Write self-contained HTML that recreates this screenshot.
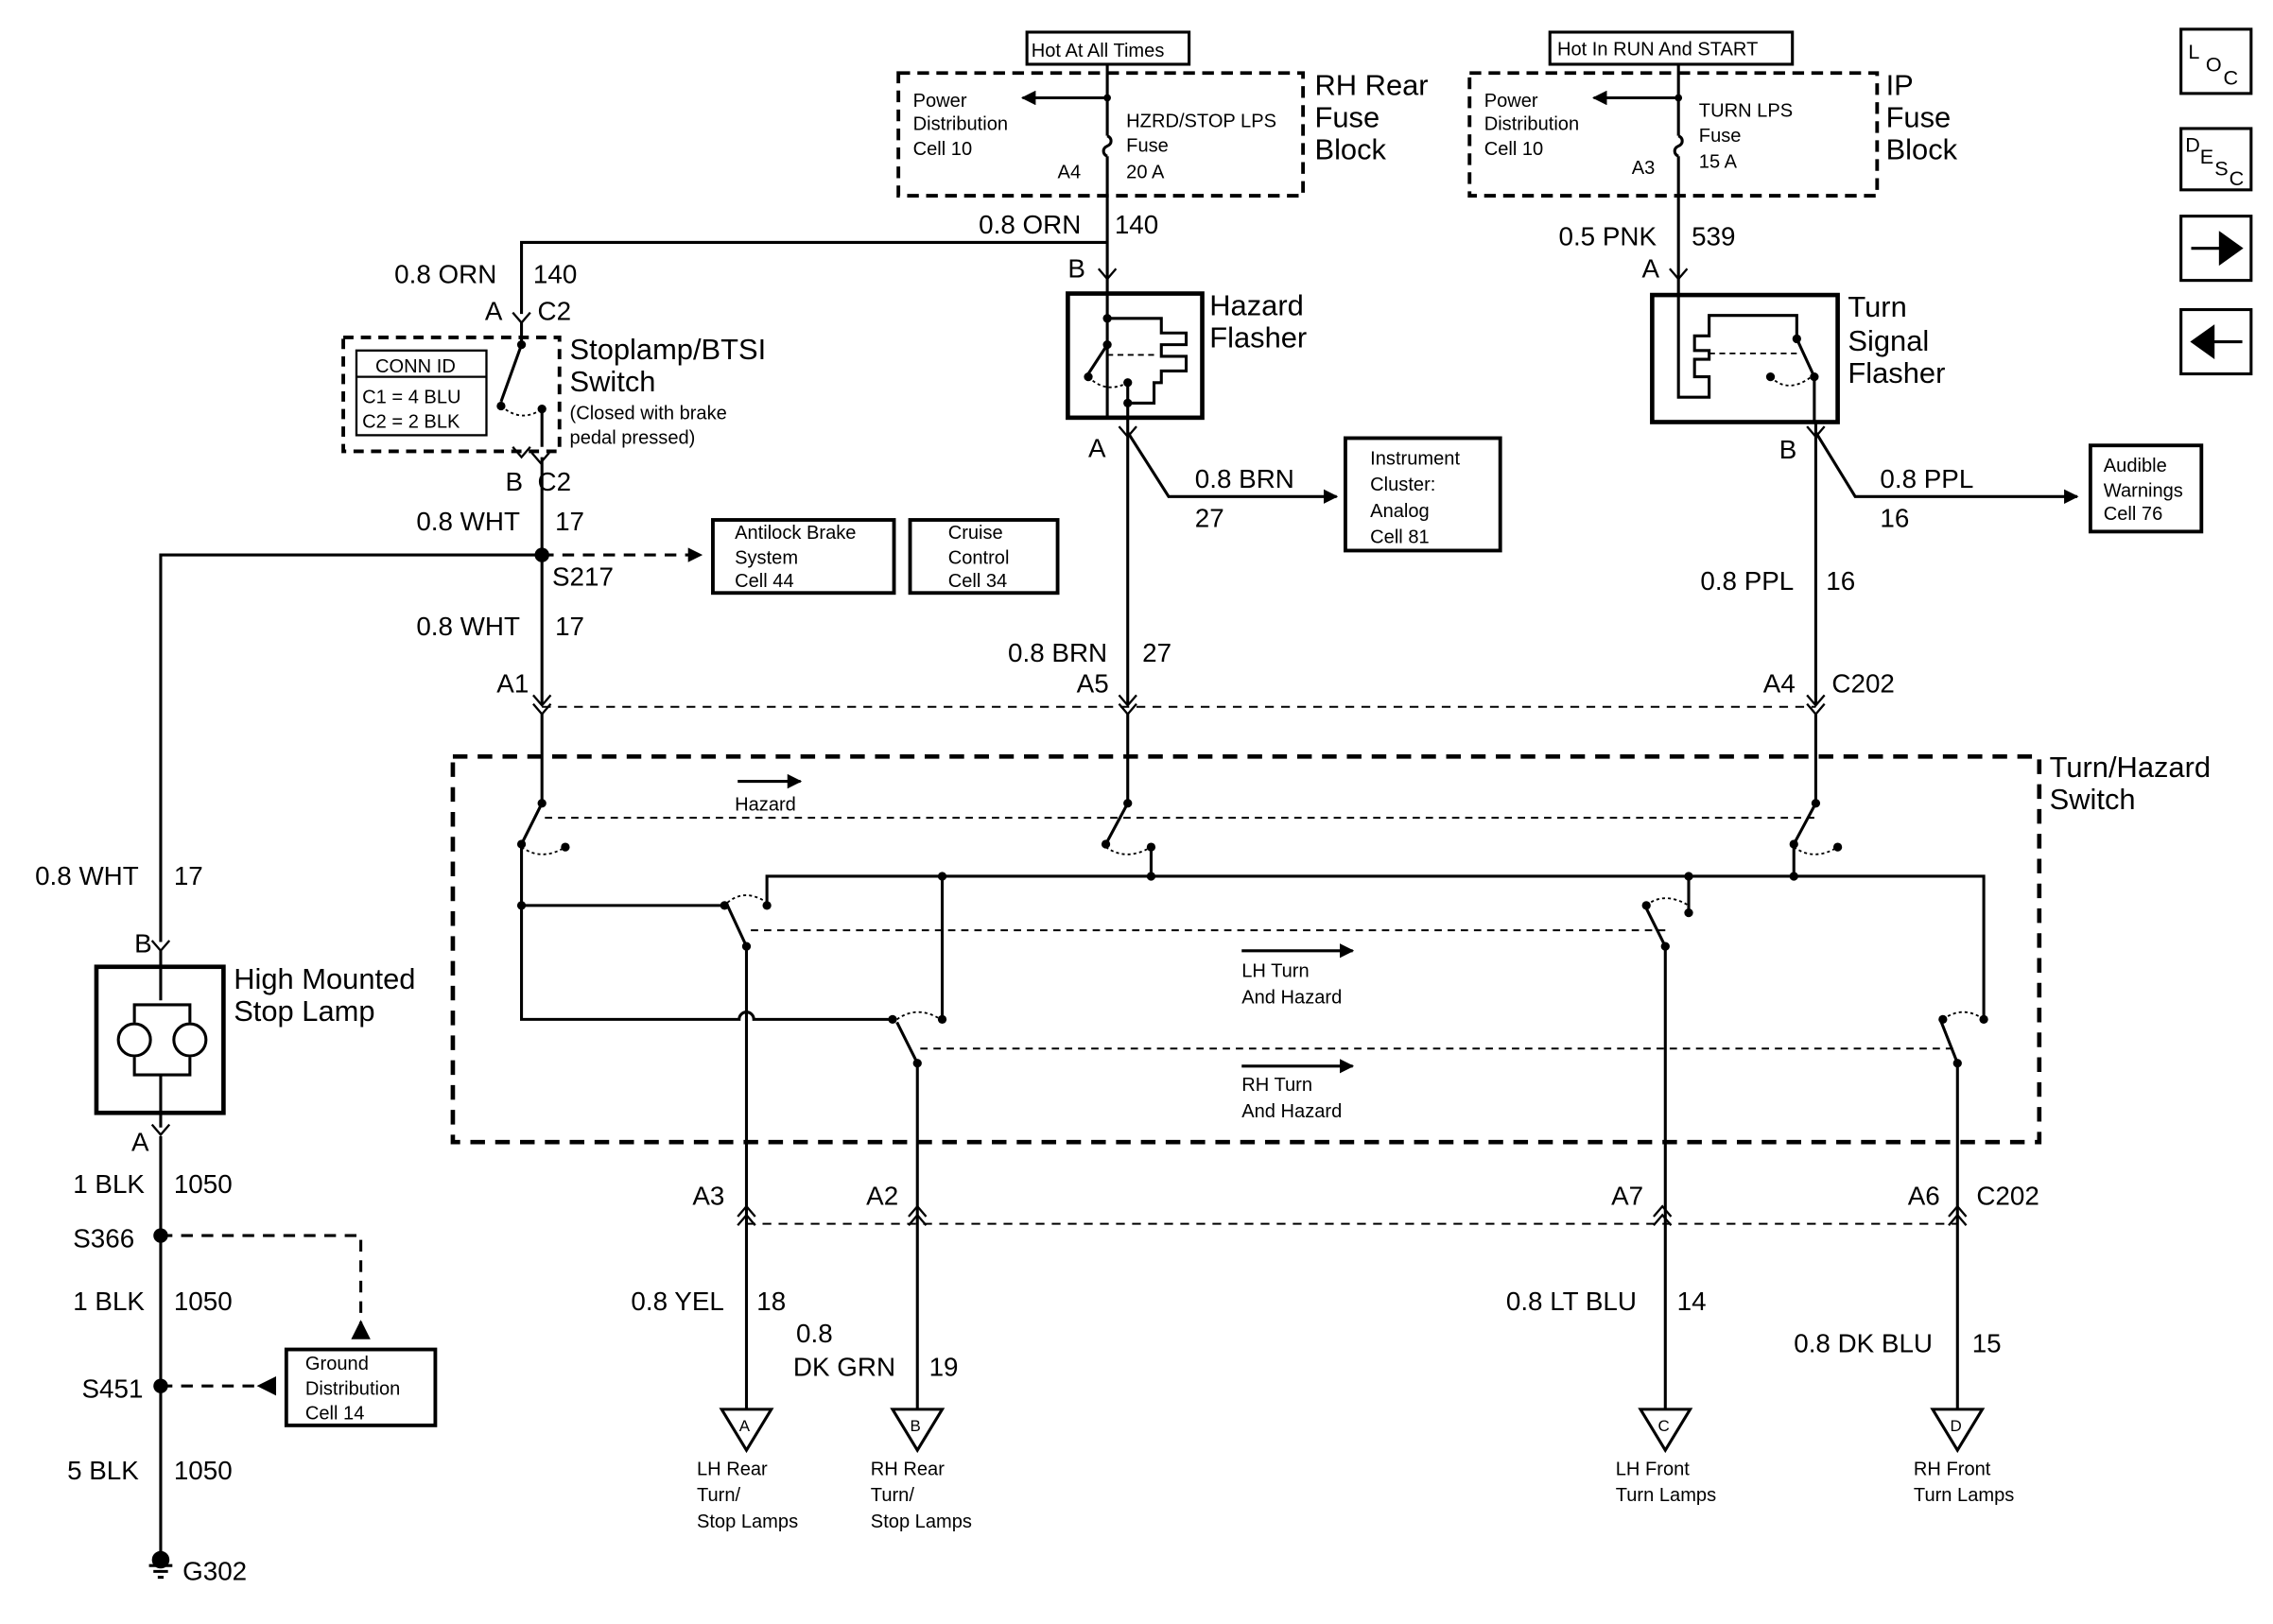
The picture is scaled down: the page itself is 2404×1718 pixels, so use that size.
<!DOCTYPE html>
<html><head><style>html,body{margin:0;padding:0;background:#fff}svg{display:block}text{font-family:"Liberation Sans",Arial,sans-serif;fill:#000}</style></head>
<body>
<svg width="2404" height="1718" viewBox="0 0 1556 1112" preserveAspectRatio="none" xmlns="http://www.w3.org/2000/svg">
<defs>
<marker id="ah" markerWidth="10" markerHeight="10" refX="9" refY="5" orient="auto" markerUnits="userSpaceOnUse"><path d="M0,0 L10,5 L0,10z" fill="#000"/></marker>
</defs>
<g stroke="#000" stroke-width="2" fill="none">
<rect x="1493" y="20" width="48" height="44"/><rect x="1493" y="88" width="48" height="42"/><rect x="1493" y="148" width="48" height="44"/><rect x="1493" y="212" width="48" height="44"/>
<rect x="703" y="22" width="111" height="22"/><rect x="1061" y="22" width="166" height="22"/>
<rect x="615" y="50" width="277" height="84" stroke-dasharray="8,5" stroke-width="2.5"/>
<rect x="1006" y="50" width="279" height="84" stroke-dasharray="8,5" stroke-width="2.5"/>
<path d="M758 44 V93 M758 107 V190"/><path d="M758 93 a5 4 0 0 1 0 7 a5 4 0 0 0 0 7"/>
<path d="M758 67 H700" marker-end="url(#ah)"/>
<path d="M1149 44 V93 M1149 107 V190"/><path d="M1149 93 a5 4 0 0 1 0 7 a5 4 0 0 0 0 7"/>
<path d="M1149 67 H1091" marker-end="url(#ah)"/>
<path d="M758 166 H357 V215"/>
<g stroke-width="1.5">
<path d="M752 184 l6 7 l6-7 M1143 184 l6 7 l6-7 M351 214 l6 7 l6-7 M351 306 l6 7 l6-7 M364 310 l6 7 l6-7 M766 292 l6 7 l6-7 M1237 292 l6 7 l6-7 M104 644 l6 7 l6-7 M104 770 l6 7 l6-7"/>
<path d="M365 476 l6 7 l6-7 M365 482 l6 7 l6-7 M766 476 l6 7 l6-7 M766 482 l6 7 l6-7 M1237 476 l6 7 l6-7 M1237 482 l6 7 l6-7"/>
<path d="M505 833 l6-7 l6 7 M505 839 l6-7 l6 7 M622 833 l6-7 l6 7 M622 839 l6-7 l6 7 M1132 833 l6-7 l6 7 M1132 839 l6-7 l6 7 M1334 833 l6-7 l6 7 M1334 839 l6-7 l6 7"/>
</g>
<rect x="731" y="201" width="92" height="85" stroke-width="3"/>
<path d="M758 190 V286 M758 218 H795 V228 H812 V236 H795 V244 H812 V254 H795 V262 H790 V276 H772 M772 262 V286 M758 236 L745 256"/>
<path d="M758 243 H792" stroke-dasharray="4,3" stroke-width="1.2"/>
<path d="M745 258 q12 12 27 4" stroke-dasharray="2,2" stroke-width="1.2"/>
<path d="M772 286 V482"/>
<path d="M772 296 L800 340 H915" marker-end="url(#ah)"/>
<rect x="921" y="300" width="106" height="77" stroke-width="2.5"/>
<rect x="1131" y="202" width="127" height="87" stroke-width="3"/>
<path d="M1149 190 V272 H1170 V258 H1160 V246 H1170 V240 H1160 V230 H1170 V216 H1230 V232 L1242 258 M1242 258 V289"/>
<path d="M1170 242 H1230" stroke-dasharray="4,3" stroke-width="1.2"/>
<path d="M1212 258 q12 12 28 0" stroke-dasharray="2,2" stroke-width="1.2"/>
<path d="M1243 289 V482"/>
<path d="M1243 296 L1270 340 H1422" marker-end="url(#ah)"/>
<rect x="1431" y="305" width="76" height="59" stroke-width="2.5"/>
<rect x="235" y="231" width="148" height="78" stroke-dasharray="7,5" stroke-width="2.5"/>
<rect x="244" y="240" width="89" height="58" stroke-width="1.5"/><path d="M244 258 H333" stroke-width="1.5"/>
<path d="M357 221 V236 L343 275 M371 280 V306"/>
<path d="M343 278 q14 12 28 2" stroke-dasharray="2,2" stroke-width="1.2"/>
<path d="M371 313 V482"/>
<path d="M371 380 H110 V645"/>
<path d="M371 380 H480" stroke-dasharray="8,6" marker-end="url(#ah)"/>
<rect x="488" y="356" width="124" height="50" stroke-width="2.5"/><rect x="623" y="356" width="101" height="50" stroke-width="2.5"/>
<path d="M371 484 H1243" stroke-dasharray="6,5" stroke-width="1.3"/>
<rect x="310" y="518" width="1086" height="264" stroke-dasharray="10,7" stroke-width="3"/>
<path d="M371 488 V550 L357 578 M772 488 V550 L757 578 M1243 488 V550 L1228 578"/>
<path d="M373 560 H1243" stroke-dasharray="5,4" stroke-width="1.3"/>
<path d="M357 580 q14 10 30 0 M757 580 q14 10 31 0 M1228 580 q14 10 30 0" stroke-dasharray="2,2" stroke-width="1.2"/>
<path d="M505 535 H548" marker-end="url(#ah)"/>
<path d="M357 578 V698 H506 a5 5 0 0 1 10 0 H611"/>
<path d="M357 620 H496"/>
<path d="M788 580 V600 M1228 580 V600 M525 620 V600 H1358 V698 M1156 600 V625 M645 600 V698"/>
<path d="M511 648 L498 620 M1140 648 L1127 622 M628 728 L614 700 M1340 728 L1329 700"/>
<path d="M498 618 q12 -10 27 0 M1127 620 q12 -10 29 0 M614 698 q14 -10 30 0 M1330 698 q14 -10 28 0" stroke-dasharray="2,2" stroke-width="1.2"/>
<path d="M514 637 H1140" stroke-dasharray="5,4" stroke-width="1.3"/>
<path d="M630 718 H1340" stroke-dasharray="5,4" stroke-width="1.3"/>
<path d="M850 651 H926" marker-end="url(#ah)"/><path d="M850 730 H926" marker-end="url(#ah)"/>
<path d="M511 648 V965 M628 728 V965 M1140 648 V965 M1340 728 V965"/>
<path d="M511 838 H1340" stroke-dasharray="6,5" stroke-width="1.3"/>
<path d="M494 965 H528 L511 993z M611 965 H645 L628 993z M1123 965 H1157 L1140 993z M1323 965 H1357 L1340 993z"/>
<rect x="66" y="662" width="87" height="100" stroke-width="3"/>
<path d="M110 651 V685 M92 700 V688 H130 V700 M92 724 V736 H130 V724 M110 736 V772 M110 778 V1068"/>
<circle cx="92" cy="712" r="11"/><circle cx="130" cy="712" r="11"/>
<path d="M110 846 H247 V912" stroke-dasharray="8,6"/><path d="M242 916 L247 906 L252 916z" fill="#000"/>
<path d="M110 949 H178" stroke-dasharray="8,6"/><path d="M188 944 L178 949 L188 954z" fill="#000"/>
<rect x="196" y="924" width="102" height="52" stroke-width="2.5"/>
<path d="M102 1072 H118 M105 1076 H115 M108 1080 H112"/>
<path d="M1500 170 H1520 M1520 160 L1534 170 L1520 180z" fill="#000"/><path d="M1535 234 H1515 M1515 224 L1501 234 L1515 244z" fill="#000"/>
</g>
<g fill="#000">
<circle cx="758" cy="67" r="2.5"/><circle cx="1149" cy="67" r="2.5"/>
<circle cx="371" cy="380" r="5"/><circle cx="110" cy="846" r="5"/><circle cx="110" cy="949" r="5"/><circle cx="110" cy="1068" r="6"/>
<circle cx="371" cy="550" r="3"/><circle cx="772" cy="550" r="3"/><circle cx="1243" cy="550" r="3"/>
<circle cx="357" cy="578" r="3"/><circle cx="387" cy="580" r="3"/><circle cx="757" cy="578" r="3"/><circle cx="788" cy="580" r="3"/><circle cx="1228" cy="578" r="3"/><circle cx="1258" cy="580" r="3"/>
<circle cx="788" cy="600" r="3"/><circle cx="1228" cy="600" r="3"/><circle cx="1156" cy="600" r="3"/><circle cx="645" cy="600" r="3"/>
<circle cx="357" cy="620" r="3"/><circle cx="496" cy="620" r="3"/><circle cx="525" cy="620" r="3"/><circle cx="1127" cy="620" r="3"/><circle cx="1156" cy="625" r="3"/>
<circle cx="511" cy="648" r="3"/><circle cx="1140" cy="648" r="3"/>
<circle cx="611" cy="698" r="3"/><circle cx="645" cy="698" r="3"/><circle cx="1330" cy="698" r="3"/><circle cx="1358" cy="698" r="3"/>
<circle cx="628" cy="728" r="3"/><circle cx="1340" cy="728" r="3"/>
<circle cx="758" cy="218" r="3"/><circle cx="758" cy="236" r="3"/><circle cx="745" cy="258" r="3"/><circle cx="772" cy="262" r="3"/><circle cx="772" cy="276" r="3"/>
<circle cx="1230" cy="232" r="3"/><circle cx="1242" cy="258" r="3"/><circle cx="1212" cy="258" r="3"/>
<circle cx="357" cy="236" r="3"/><circle cx="343" cy="278" r="3"/><circle cx="371" cy="280" r="3"/>
</g>
<g font-size="13">
<text x="706" y="39">Hot At All Times</text><text x="1066" y="38">Hot In RUN And START</text>
<text x="625" y="73">Power</text><text x="625" y="89">Distribution</text><text x="625" y="106">Cell 10</text>
<text x="771" y="87">HZRD/STOP LPS</text><text x="771" y="104">Fuse</text><text x="771" y="122">20 A</text><text x="724" y="122">A4</text>
<text x="1016" y="73">Power</text><text x="1016" y="89">Distribution</text><text x="1016" y="106">Cell 10</text>
<text x="1163" y="80">TURN LPS</text><text x="1163" y="97">Fuse</text><text x="1163" y="115">15 A</text><text x="1117" y="119">A3</text>
<text x="257" y="255">CONN ID</text><text x="248" y="276">C1 = 4 BLU</text><text x="248" y="293">C2 = 2 BLK</text>
<text x="390" y="287">(Closed with brake</text><text x="390" y="304">pedal pressed)</text>
<text x="503" y="369">Antilock Brake</text><text x="503" y="386">System</text><text x="503" y="402">Cell 44</text>
<text x="649" y="369">Cruise</text><text x="649" y="386">Control</text><text x="649" y="402">Cell 34</text>
<text x="938" y="318">Instrument</text><text x="938" y="336">Cluster:</text><text x="938" y="354">Analog</text><text x="938" y="372">Cell 81</text>
<text x="1440" y="323">Audible</text><text x="1440" y="340">Warnings</text><text x="1440" y="356">Cell 76</text>
<text x="503" y="555">Hazard</text><text x="850" y="669">LH Turn</text><text x="850" y="687">And Hazard</text><text x="850" y="747">RH Turn</text><text x="850" y="765">And Hazard</text>
<text x="209" y="938">Ground</text><text x="209" y="955">Distribution</text><text x="209" y="972">Cell 14</text>
<text x="477" y="1010">LH Rear</text><text x="477" y="1028">Turn/</text><text x="477" y="1046">Stop Lamps</text>
<text x="596" y="1010">RH Rear</text><text x="596" y="1028">Turn/</text><text x="596" y="1046">Stop Lamps</text>
<text x="1106" y="1010">LH Front</text><text x="1106" y="1028">Turn Lamps</text>
<text x="1310" y="1010">RH Front</text><text x="1310" y="1028">Turn Lamps</text>
<text x="506" y="980" font-size="11">A</text><text x="623" y="980" font-size="11">B</text><text x="1135" y="980" font-size="11">C</text><text x="1335" y="980" font-size="11">D</text>
<text x="1498" y="40" font-size="14">L</text><text x="1510" y="49" font-size="14">O</text><text x="1522" y="58" font-size="14">C</text>
<text x="1496" y="104" font-size="14">D</text><text x="1506" y="112" font-size="14">E</text><text x="1516" y="120" font-size="14">S</text><text x="1526" y="127" font-size="14">C</text>
</g>
<g font-size="18">
<text x="900" y="65" font-size="20">RH Rear</text><text x="900" y="87" font-size="20">Fuse</text><text x="900" y="109" font-size="20">Block</text>
<text x="1291" y="65" font-size="20">IP</text><text x="1291" y="87" font-size="20">Fuse</text><text x="1291" y="109" font-size="20">Block</text>
<text x="670" y="160">0.8 ORN</text><text x="763" y="160">140</text><text x="731" y="190">B</text>
<text x="1067" y="168">0.5 PNK</text><text x="1158" y="168">539</text><text x="1124" y="190">A</text>
<text x="270" y="194">0.8 ORN</text><text x="365" y="194">140</text><text x="332" y="219">A</text><text x="368" y="219">C2</text>
<text x="828" y="216" font-size="20">Hazard</text><text x="828" y="238" font-size="20">Flasher</text>
<text x="1265" y="217" font-size="20">Turn</text><text x="1265" y="240" font-size="20">Signal</text><text x="1265" y="262" font-size="20">Flasher</text>
<text x="390" y="246" font-size="20">Stoplamp/BTSI</text><text x="390" y="268" font-size="20">Switch</text>
<text x="745" y="313">A</text><text x="818" y="334">0.8 BRN</text><text x="818" y="361">27</text>
<text x="1218" y="314">B</text><text x="1287" y="334">0.8 PPL</text><text x="1287" y="361">16</text>
<text x="346" y="336">B</text><text x="368" y="336">C2</text>
<text x="285" y="363">0.8 WHT</text><text x="380" y="363">17</text><text x="378" y="401">S217</text>
<text x="285" y="435">0.8 WHT</text><text x="380" y="435">17</text><text x="340" y="474">A1</text>
<text x="690" y="453">0.8 BRN</text><text x="782" y="453">27</text><text x="737" y="474">A5</text>
<text x="1164" y="404">0.8 PPL</text><text x="1250" y="404">16</text><text x="1207" y="474">A4</text><text x="1254" y="474">C202</text>
<text x="1403" y="532" font-size="20">Turn/Hazard</text><text x="1403" y="554" font-size="20">Switch</text>
<text x="24" y="606">0.8 WHT</text><text x="119" y="606">17</text><text x="92" y="652">B</text>
<text x="160" y="677" font-size="20">High Mounted</text><text x="160" y="699" font-size="20">Stop Lamp</text>
<text x="90" y="788">A</text><text x="50" y="817">1 BLK</text><text x="119" y="817">1050</text><text x="50" y="854">S366</text>
<text x="50" y="897">1 BLK</text><text x="119" y="897">1050</text><text x="56" y="957">S451</text>
<text x="46" y="1013">5 BLK</text><text x="119" y="1013">1050</text><text x="125" y="1082">G302</text>
<text x="474" y="825">A3</text><text x="593" y="825">A2</text><text x="1103" y="825">A7</text><text x="1306" y="825">A6</text><text x="1353" y="825">C202</text>
<text x="432" y="897">0.8 YEL</text><text x="518" y="897">18</text>
<text x="545" y="919">0.8</text><text x="543" y="942">DK GRN</text><text x="636" y="942">19</text>
<text x="1031" y="897">0.8 LT BLU</text><text x="1148" y="897">14</text>
<text x="1228" y="926">0.8 DK BLU</text><text x="1350" y="926">15</text>
</g>
</svg>
</body></html>
